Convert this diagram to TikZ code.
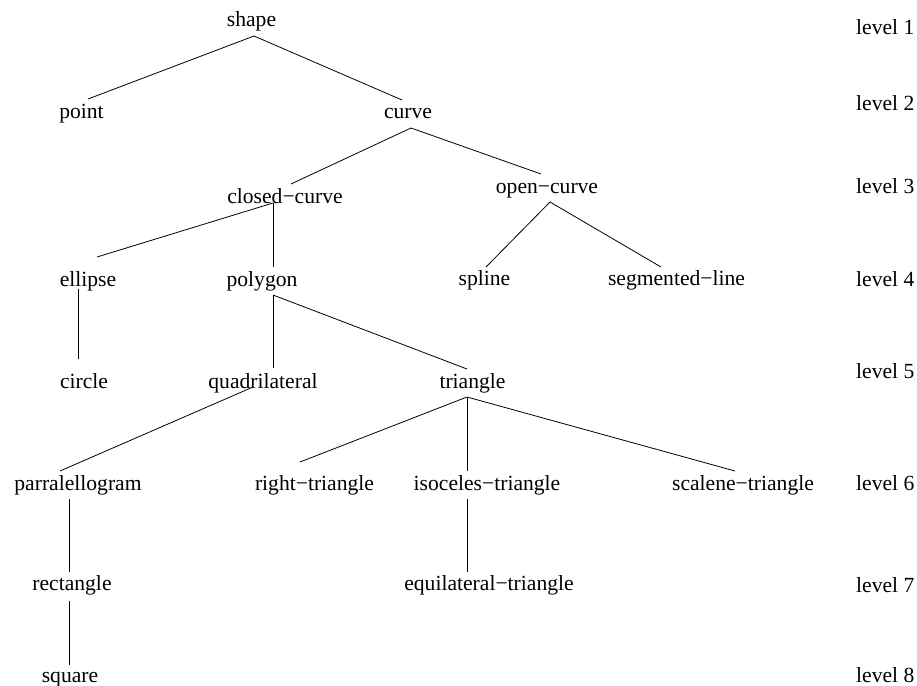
\documentclass[tikz,border=0pt]{standalone}
\usepackage{fontspec}
\setmainfont{Liberation Serif}
\begin{document}
\begin{tikzpicture}[x=1pt,y=-1pt,
  lbl/.style={anchor=base,inner sep=0pt,font=\fontsize{21.6}{26}\selectfont},
  lvl/.style={anchor=base west,inner sep=0pt,font=\fontsize{21.6}{26}\selectfont},
  edge/.style={draw=black,line width=0.8pt}]
\useasboundingbox (0,0) rectangle (917,685);
% nodes
\node[lbl] (shape) at (251.5,27) {shape};
\node[lbl] (point) at (81.5,118) {point};
\node[lbl] (curve) at (408,118) {curve};
\node[lbl] (closed) at (285,203) {closed−curve};
\node[lbl] (open) at (547,193) {open−curve};
\node[lbl] (ellipse) at (88,286) {ellipse};
\node[lbl] (polygon) at (262,286) {polygon};
\node[lbl] (spline) at (484.5,285) {spline};
\node[lbl] (segmented) at (676.5,285) {segmented−line};
\node[lbl] (circle) at (84,388) {circle};
\node[lbl] (quad) at (263,388) {quadrilateral};
\node[lbl] (triangle) at (472.5,388) {triangle};
\node[lbl] (parr) at (78,490) {parralellogram};
\node[lbl] (right) at (314.5,490) {right−triangle};
\node[lbl] (isoceles) at (487,490) {isoceles−triangle};
\node[lbl] (scalene) at (743,490) {scalene−triangle};
\node[lbl] (rect) at (72,590) {rectangle};
\node[lbl] (equi) at (489,590) {equilateral−triangle};
\node[lbl] (square) at (70,682) {square};
% levels
\node[lvl] (l1) at (856,35) {level 1};
\node[lvl] (l2) at (856,110) {level 2};
\node[lvl] (l3) at (856,193) {level 3};
\node[lvl] (l4) at (856,286) {level 4};
\node[lvl] (l5) at (856,378) {level 5};
\node[lvl] (l6) at (856,490) {level 6};
\node[lvl] (l7) at (856,592) {level 7};
\node[lvl] (l8) at (856,682) {level 8};
% edges
\path[edge] ([xshift=2.5pt,yshift=-9pt]shape.base) -- ([xshift=6.5pt,yshift=19pt]point.base);
\path[edge] ([xshift=2.5pt,yshift=-9pt]shape.base) -- ([xshift=-6pt,yshift=18pt]curve.base);
\path[edge] ([xshift=3pt,yshift=-10pt]curve.base) -- ([xshift=6pt,yshift=19pt]closed.base);
\path[edge] ([xshift=3pt,yshift=-10pt]curve.base) -- ([xshift=-6pt,yshift=19pt]open.base);
\path[edge] ([xshift=-12pt,yshift=0pt]closed.base) -- ([xshift=9pt,yshift=29pt]ellipse.base);
\path[edge] ([xshift=-12pt,yshift=0pt]closed.base) -- ([xshift=11pt,yshift=19pt]polygon.base);
\path[edge] ([xshift=3pt,yshift=-9pt]open.base) -- ([xshift=1.5pt,yshift=18pt]spline.base);
\path[edge] ([xshift=3pt,yshift=-9pt]open.base) -- ([xshift=-15.5pt,yshift=18pt]segmented.base);
\path[edge] ([xshift=-10pt,yshift=-3pt]ellipse.base) -- ([xshift=-6pt,yshift=29pt]circle.base);
\path[edge] ([xshift=11pt,yshift=-9pt]polygon.base) -- ([xshift=10pt,yshift=20pt]quad.base);
\path[edge] ([xshift=11pt,yshift=-9pt]polygon.base) -- ([xshift=-5.5pt,yshift=19pt]triangle.base);
\path[edge] ([xshift=-10pt,yshift=1pt]quad.base) -- ([xshift=-18pt,yshift=19pt]parr.base);
\path[edge] ([xshift=-5.5pt,yshift=-9pt]triangle.base) -- ([xshift=-14.5pt,yshift=28pt]right.base);
\path[edge] ([xshift=-5.5pt,yshift=-9pt]triangle.base) -- ([xshift=-20pt,yshift=19pt]isoceles.base);
\path[edge] ([xshift=-5.5pt,yshift=-9pt]triangle.base) -- ([xshift=-8pt,yshift=19pt]scalene.base);
\path[edge] ([xshift=-20pt,yshift=-9pt]isoceles.base) -- ([xshift=-22pt,yshift=18pt]equi.base);
\path[edge] ([xshift=-9pt,yshift=-9pt]parr.base) -- ([xshift=-3pt,yshift=18pt]rect.base);
\path[edge] ([xshift=-3pt,yshift=-11pt]rect.base) -- ([xshift=-1pt,yshift=17pt]square.base);
\end{tikzpicture}
\end{document}
